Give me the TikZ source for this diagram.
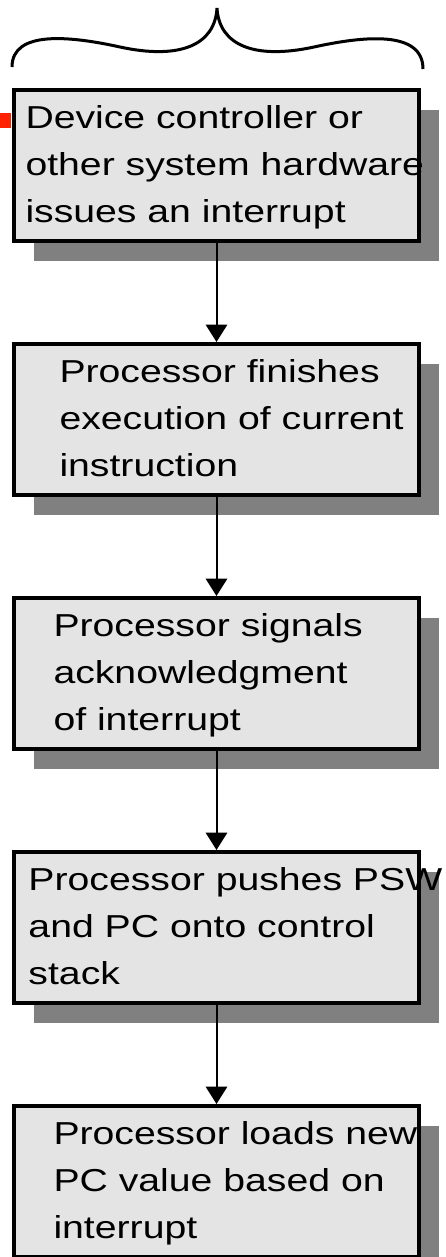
\documentclass[tikz,border=0pt]{standalone}
\usepackage{fontspec}
\setmainfont[FakeStretch=1.235]{Liberation Sans}
\usetikzlibrary{positioning,shadows,arrows.meta}

\definecolor{boxgray}{RGB}{228,228,228}
\definecolor{shadowgray}{RGB}{128,128,128}
\definecolor{markred}{RGB}{255,34,0}

\tikzset{every picture/.style={line width=0.75pt}}
\tikzset{
  procbox/.style={draw, line width=3pt, fill=boxgray, minimum width=303.75pt, minimum height=113.25pt,
    drop shadow={shadow xshift=15pt, shadow yshift=-15pt, fill=shadowgray, opacity=1}},
  proctext/.style={anchor=base west, inner sep=0pt, align=left, font=\fontsize{23.8pt}{35.25pt}\selectfont},
  flow/.style={line width=1.5pt, -{Triangle[width=16pt,length=13pt]}}
}

\begin{document}
\begin{tikzpicture}[x=0.75pt,y=0.75pt,yscale=-1,xscale=1]
\useasboundingbox (0,0) rectangle (446,1257);

%Brace
\draw [line width=2.25pt] (12,67) .. controls (12,30) and (70,36) .. (120,47) .. controls (180,60) and (215,45) .. (217,8) .. controls (219,45) and (254,60) .. (314,47) .. controls (364,36) and (423,30) .. (423,69) ;
%Red mark
\fill [markred] (0,113) rectangle (11,128) ;

%Boxes
\node [procbox] (b1) at (216.5,165.5) {};
\node [procbox, below=74.25pt of b1] (b2) {};
\node [procbox, below=74.25pt of b2] (b3) {};
\node [procbox, below=74.25pt of b3] (b4) {};
\node [procbox, below=74.25pt of b4] (b5) {};

%Arrows
\draw [flow] (b1) -- (b2) ;
\draw [flow] (b2) -- (b3) ;
\draw [flow] (b3) -- (b4) ;
\draw [flow] (b4) -- (b5) ;

% Text Nodes (base = last line)
\node [proctext] (t1) at ([shift={(13,134.5)}]b1.north west) {Device controller or\\other system hardware\\issues an interrupt};
\node [proctext] (t2) at ([shift={(47,134.5)}]b2.north west) {Processor finishes\\execution of current\\instruction};
\node [proctext] (t3) at ([shift={(41,134.5)}]b3.north west) {Processor signals\\acknowledgment\\of interrupt};
\node [proctext] (t4) at ([shift={(16,134.5)}]b4.north west) {Processor pushes PSW\\and PC onto control\\stack};
\node [proctext] (t5) at ([shift={(41,134.5)}]b5.north west) {Processor loads new\\PC value based on\\interrupt};

\end{tikzpicture}
\end{document}
